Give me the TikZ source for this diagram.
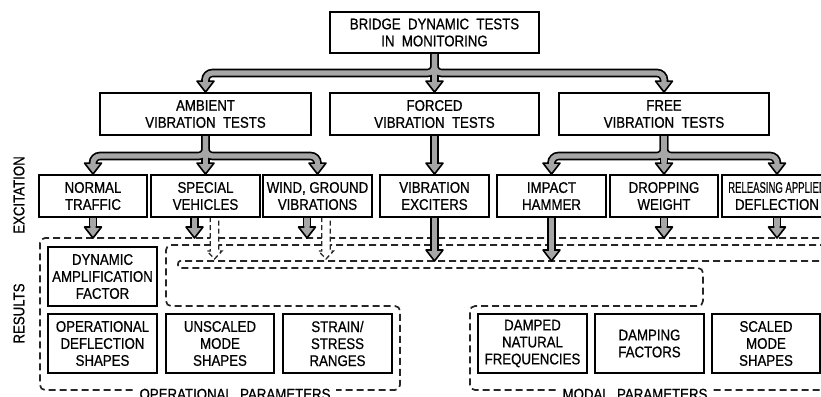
\documentclass[tikz,border=0pt]{standalone}
\usepackage{fontspec}
\setmainfont{Liberation Sans}[FakeStretch=0.86,FakeBold=0.7]
\usetikzlibrary{calc}
\pgfdeclarelayer{dashes}
\pgfdeclarelayer{arrows}
\pgfsetlayers{dashes,arrows,main}
\begin{document}
\begin{tikzpicture}[x=1pt,y=-1pt,
  box/.style={draw=black, line width=1.8pt, align=center, inner sep=0pt,
    font=\fontsize{15.4}{17}\selectfont, text=black},
  b3/.style={box, minimum width=#1, minimum height=42pt},
  b2/.style={box, minimum width=#1, minimum height=59pt},
  lab/.style={inner sep=0pt, font=\fontsize{15.4}{17}\selectfont, text=black},
  shaftout/.style={line width=8.6pt, draw=black, rounded corners=7pt},
  shaftin/.style={line width=5.2pt, draw=black!35, rounded corners=7pt},
  dashst/.style={draw=black!85, line width=1.7pt, dash pattern=on 7pt off 4pt},
  dasharr/.style={draw=black!85, line width=1.3pt, dash pattern=on 5pt off 3pt, fill=white},
  fhead/.pic={\filldraw[fill=black!35, draw=black, line width=1.6pt, line join=round]
    (-2.6,-11) -- (-8.5,-11) -- (0,0) -- (8.5,-11) -- (2.6,-11);}
]
\useasboundingbox (0,0) rectangle (821,396);

% boxes
\node[b3=209pt, minimum height=41pt] (top) at (434.5,32.5) {BRIDGE\ \ DYNAMIC\ \ TESTS\\IN\ \ MONITORING};
\node[b3=211pt] (amb) at (205.5,114) {AMBIENT\\VIBRATION\ \ TESTS};
\node[b3=209pt] (forced) at (434.5,114) {FORCED\\VIBRATION\ \ TESTS};
\node[b3=210pt] (free) at (664,114) {FREE\\VIBRATION\ \ TESTS};

\node[b3=108pt] (normal) at (93,196) {NORMAL\\TRAFFIC};
\node[b3=109pt] (special) at (205.5,196) {SPECIAL\\VEHICLES};
\node[b3=109pt] (wind) at (317.5,196) {WIND, GROUND\\VIBRATIONS};
\node[b3=109pt] (exc) at (434.5,196) {VIBRATION\\EXCITERS};
\node[b3=109pt] (impact) at (551.5,196) {IMPACT\\HAMMER};
\node[b3=108pt] (drop) at (664,196) {DROPPING\\WEIGHT};
\node[b3=110pt] (rel) at (777,196) {\scalebox{0.72}[1]{RELEASING APPLIED}\\DEFLECTION};

\node[b2=109pt] (daf) at (102.5,276.5) {DYNAMIC\\AMPLIFICATION\\FACTOR};
\node[b2=109pt] (ods) at (102.5,343.5) {OPERATIONAL\\DEFLECTION\\SHAPES};
\node[b2=108pt] (ums) at (220,343.5) {UNSCALED\\MODE\\SHAPES};
\node[b2=109pt] (ssr) at (337.5,343.5) {STRAIN/\\STRESS\\RANGES};
\node[b2=109pt] (dnf) at (532.5,343.5) {DAMPED\\NATURAL\\FREQUENCIES};
\node[b2=109pt] (dfac) at (649.5,343.5) {DAMPING\\FACTORS};
\node[b2=108pt] (sms) at (766,343.5) {SCALED\\MODE\\SHAPES};

% side and bottom labels
\node[lab, rotate=90] (exlab) at (19,195) {EXCITATION};
\node[lab, rotate=90] (reslab) at (19,313.5) {RESULTS};
\node[lab, anchor=base, fill=white, inner xsep=6pt] (oplab) at (235,399.5) {OPERATIONAL\ \ PARAMETERS};
\node[lab, anchor=base, fill=white, inner xsep=6pt] (modlab) at (635,399.5) {MODAL\ \ PARAMETERS};

% junction and tip coordinates
\coordinate (j0) at (434.5,73);
\coordinate (j1) at (205.5,156);
\coordinate (j2) at (664,156);
\coordinate (tn) at (93,238);
\coordinate (ts) at (194.5,238);
\coordinate (tw) at (307,238);
\coordinate (te) at (434.5,261);
\coordinate (ti) at (551.5,261);
\coordinate (td) at (664,238);
\coordinate (tr) at (777,238);
\coordinate (ds) at (214.5,259);
\coordinate (dw) at (326,259);

% dashed regions
\begin{pgfonlayer}{dashes}
\draw[dashst, rounded corners=5pt] (830,238) -- (40,238) -- (40,390) -- (400,390) -- (400,306)
  -- (166,306) -- (166,245) -- (830,245);
\draw[dashst] (830,261) -- (180,261) to[out=180,in=180] (180,268)
  [rounded corners=5pt] -- (703,268) -- (703,306) -- (470,306) -- (470,390) -- (830,390);
\end{pgfonlayer}

% block arrows
\newcommand\allshafts[1]{%
  \draw[#1] (top.south) -- (j0) -| ($(amb.north)+(0,-10.5)$);
  \draw[#1] (top.south) -- ($(forced.north)+(0,-10.5)$);
  \draw[#1] (top.south) -- (j0) -| ($(free.north)+(0,-10.5)$);
  \draw[#1] (amb.south) -- (j1) -| ($(normal.north)+(0,-10.5)$);
  \draw[#1] (amb.south) -- ($(special.north)+(0,-10.5)$);
  \draw[#1] (amb.south) -- (j1) -| ($(wind.north)+(0,-10.5)$);
  \draw[#1] (forced.south) -- ($(exc.north)+(0,-10.5)$);
  \draw[#1] (free.south) -- (j2) -| ($(impact.north)+(0,-10.5)$);
  \draw[#1] (free.south) -- ($(drop.north)+(0,-10.5)$);
  \draw[#1] (free.south) -- (j2) -| ($(rel.north)+(0,-10.5)$);
  \draw[#1] (normal.south) -- ($(tn)+(0,-10.5)$);
  \draw[#1] (special.south -| ts) -- ($(ts)+(0,-10.5)$);
  \draw[#1] (wind.south -| tw) -- ($(tw)+(0,-10.5)$);
  \draw[#1] (exc.south) -- ($(te)+(0,-10.5)$);
  \draw[#1] (impact.south) -- ($(ti)+(0,-10.5)$);
  \draw[#1] (drop.south) -- ($(td)+(0,-10.5)$);
  \draw[#1] (rel.south) -- ($(tr)+(0,-10.5)$);
}
\begin{pgfonlayer}{arrows}
\foreach \d in {ds,dw}{
  \filldraw[dasharr] ($(\d)+(-4.2,-42)$) -- ($(\d)+(-4.2,-8)$) -- ($(\d)+(-7.5,-8)$) -- (\d)
    -- ($(\d)+(7.5,-8)$) -- ($(\d)+(4.2,-8)$) -- ($(\d)+(4.2,-42)$);
}
\allshafts{shaftout}
\allshafts{shaftin}
\foreach \t in {amb.north,forced.north,free.north,normal.north,special.north,wind.north,
  exc.north,impact.north,drop.north,rel.north,tn,ts,tw,te,ti,td,tr}{
  \pic at (\t) {fhead};
}
\end{pgfonlayer}
\end{tikzpicture}
\end{document}
